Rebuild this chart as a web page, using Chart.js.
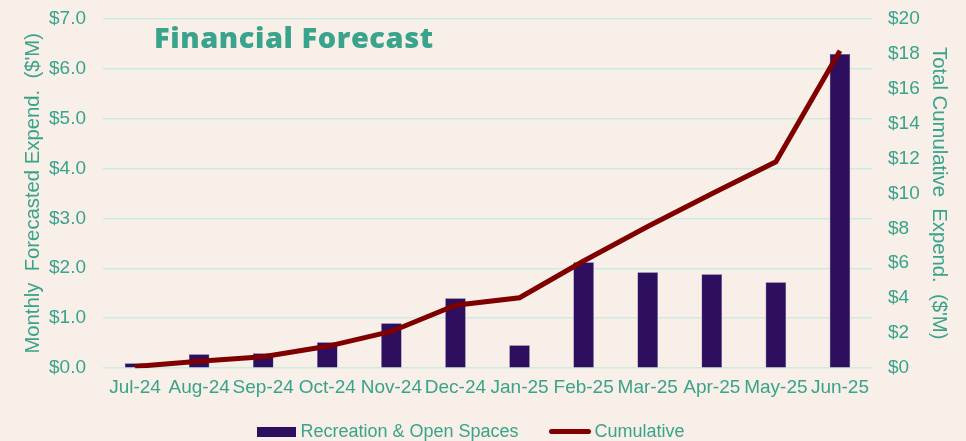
<!DOCTYPE html>
<html>
<head>
<meta charset="utf-8">
<script src="https://cdn.jsdelivr.net/npm/chart.js@4/dist/chart.umd.min.js"></script>
<style>
  html, body { margin: 0; padding: 0; background: #f7efe8; overflow: hidden; }
  #wrap { position: relative; width: 966px; height: 441px; overflow: hidden; }
  #chart { position: absolute; left: 0; top: -10px; }
  #title {
    position: absolute; left: 154px; top: 17px;
    font-family: "Open Sans", "Noto Sans", sans-serif; font-weight: 800; font-size: 29px;
    color: #3aa38c; letter-spacing: 0.55px;
  }
  #legend {
    position: absolute; left: -12px; width: 966px; top: 421px;
    display: flex; justify-content: center; align-items: center;
    font-family: "Liberation Sans", Arial, sans-serif; font-size: 18px; color: #3aa38c;
  }
  .item { display: flex; align-items: center; margin: 0 15px; }
  .sw { display: inline-block; margin-right: 4px; }
</style>
</head>
<body>
<div id="wrap">
  <canvas id="chart" width="966" height="449"></canvas>
  <div id="title">Financial Forecast</div>
  <div id="legend">
    <div class="item"><span class="sw" style="width:39px;height:10px;background:#2e0e5f"></span>Recreation &amp; Open Spaces</div>
    <div class="item"><span class="sw" style="width:42px;height:5px;border-radius:3px;background:#800000"></span>Cumulative</div>
  </div>
</div>
<script>
// Months of the forecast period
const months = ['Jul-24', 'Aug-24', 'Sep-24', 'Oct-24', 'Nov-24', 'Dec-24',
                'Jan-25', 'Feb-25', 'Mar-25', 'Apr-25', 'May-25', 'Jun-25'];
// Monthly forecasted expenditure ($'M)
const monthly = [0.10, 0.28, 0.30, 0.52, 0.90, 1.40, 0.46, 2.12, 1.92, 1.88, 1.72, 6.29];
// Total cumulative expenditure ($'M)
const cumulative = [0.10, 0.40, 0.66, 1.25, 2.10, 3.60, 4.03, 6.13, 8.10, 9.97, 11.80, 18.15];

const teal = '#3aa38c';
const gridCol = '#cdebe3';
const fontFam = '"Liberation Sans", Arial, sans-serif';
const tickFont = { family: fontFam, size: 19 };
const titleFont = { family: fontFam, size: 20.3 };

new Chart(document.getElementById('chart'), {
    data: {
        labels: months,
        datasets: [{
            type: 'line',
            label: 'Cumulative',
            data: cumulative,
            yAxisID: 'y2',
            borderColor: '#800000',
            borderWidth: 5,
            pointRadius: 0,
            tension: 0,
            order: 0
        }, {
            type: 'bar',
            label: 'Recreation & Open Spaces',
            data: monthly,
            yAxisID: 'y',
            backgroundColor: '#2e0e5f',
            borderColor: '#6a5a8a',
            borderWidth: 0.5,
            barPercentage: 0.4,
            categoryPercentage: 0.8,
            order: 1
        }]
    },
    options: {
        responsive: false,
        animation: false,
        layout: { padding: { left: 20, right: 14, top: 0, bottom: 40 } },
        plugins: {
            legend: { display: false },
            tooltip: { enabled: false }
        },
        scales: {
            x: {
                grid: { display: false },
                border: { display: false },
                ticks: { color: teal, font: tickFont, maxRotation: 0, autoSkip: false, padding: 0 }
            },
            y: {
                position: 'left',
                min: 0, max: 7,
                afterFit: s => { s.width = 83; },
                ticks: {
                    stepSize: 1, color: teal, font: tickFont, padding: 17,
                    callback: v => '$' + v.toFixed(1)
                },
                grid: { color: gridCol, lineWidth: 1.5, drawTicks: false },
                border: { display: false },
                title: { display: true, text: "Monthly  Forecasted Expend.  ($'M)", color: teal, font: titleFont, padding: 1 }
            },
            y2: {
                position: 'right',
                min: 0, max: 20,
                afterFit: s => { s.width = 80; },
                ticks: {
                    stepSize: 2, color: teal, font: tickFont, padding: 16,
                    callback: v => '$' + v
                },
                grid: { display: false, drawTicks: false },
                border: { display: false },
                title: { display: true, text: "Total Cumulative  Expend.  ($'M)", color: teal, font: titleFont, padding: 1 }
            }
        }
    }
});
</script>
</body>
</html>
